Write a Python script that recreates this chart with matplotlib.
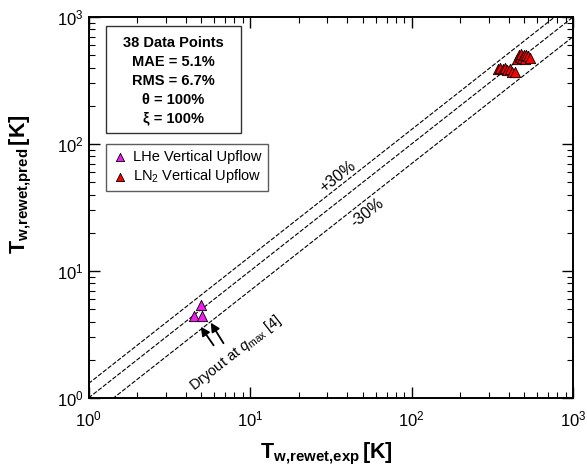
import matplotlib
matplotlib.use("Agg")
import matplotlib.pyplot as plt
from matplotlib.patches import Rectangle
import numpy as np

plt.rcParams['font.family'] = ['Liberation Sans', 'DejaVu Sans']
plt.rcParams['mathtext.fontset'] = 'custom'
plt.rcParams['mathtext.rm'] = 'Liberation Sans'
plt.rcParams['mathtext.bf'] = 'Liberation Sans:bold'
plt.rcParams['mathtext.it'] = 'Liberation Sans:italic'

# LHe vertical upflow: (experimental, predicted) rewet temperature [K]
lhe_exp = [4.5, 5.05, 4.95]
lhe_pred = [4.4, 4.4, 5.35]

# LN2 vertical upflow
ln2_exp = [345, 355, 368, 380, 392, 405, 420, 440,
           452, 462, 470, 478, 486, 494, 503, 512, 525, 540]
ln2_pred = [392, 398, 388, 396, 384, 390, 372, 368,
            470, 505, 488, 512, 478, 498, 470, 505, 492, 478]

# error bands
band_factors = [1.3, 1.0, 0.7]
band_labels = ['+30%', '-30%']
band_label_pos = [(35, 55), (53, 28.6)]

# dryout arrows: (tail, tip)
arrows = [((5.95, 2.6), (4.95, 3.64)), ((6.85, 2.7), (5.71, 3.92))]

stats_lines = ['38 Data Points', 'MAE = 5.1%', 'RMS = 6.7%',
               '\u03b8 = 100%', '\u03be = 100%']

fig = plt.figure(figsize=(5.87, 4.70), dpi=100)
ax = fig.add_axes([0.1508, 0.1532, 0.8254, 0.8106])

xs = np.array([1.0, 1000.0])
for f in band_factors:
    ax.plot(xs, f * xs, color='black', lw=0.8, ls=(0, (4, 1.5)), zorder=1)

ax.scatter(lhe_exp, lhe_pred, marker='^', s=55, c='#f01cf0',
           edgecolors='black', linewidths=0.6, zorder=3,
           label='LHe Vertical Upflow')
ax.scatter(ln2_exp, ln2_pred, marker='^', s=55, c='#ff0000',
           edgecolors='black', linewidths=0.6, zorder=3,
           label='LN$_2$ Vertical Upflow')

ax.set_xscale('log')
ax.set_yscale('log')
ax.set_xlim(1, 1000)
ax.set_ylim(1, 1000)

ax.tick_params(which='both', direction='in', top=True, right=True,
               labelsize=12)
ax.tick_params(which='major', length=8, width=1.0)
ax.tick_params(which='minor', length=4, width=0.8)
ax.tick_params(axis='x', pad=8)
for s in ax.spines.values():
    s.set_linewidth(1.4)

ax.set_xlabel(r'$\mathbf{T}_{\mathbf{w{,}rewet{,}exp}}\,\mathbf{[K]}$', fontsize=15.5)
ax.set_ylabel(r'$\mathbf{T}_{\mathbf{w{,}rewet{,}pred}}\,\mathbf{[K]}$', fontsize=15.5)
ax.xaxis.set_label_coords(0.492, -0.112)
ax.yaxis.set_label_coords(-0.112, 0.56)

# rotation that follows the 1:1 line on screen
fig.canvas.draw()
p0 = ax.transData.transform((1, 1))
p1 = ax.transData.transform((1000, 1000))
ang = np.degrees(np.arctan2(p1[1] - p0[1], p1[0] - p0[0]))

for lab, (lx, ly) in zip(band_labels, band_label_pos):
    ax.text(lx, ly, lab, rotation=ang, ha='center', va='center',
            fontsize=11.5, rotation_mode='anchor')

ax.text(8.2, 2.25, 'Dryout at $q_{\\mathrm{max}}$ [4]', rotation=ang,
        ha='center', va='center', fontsize=10.5, rotation_mode='anchor')
for tail, tip in arrows:
    ax.annotate('', xy=tip, xytext=tail,
                arrowprops=dict(arrowstyle='-|>', color='black', lw=1.3,
                                mutation_scale=13, shrinkA=0, shrinkB=0))

# stats box
ax.add_patch(Rectangle((0.0355, 0.695), 0.2785, 0.281, transform=ax.transAxes,
                       fill=False, edgecolor='#333333', lw=1.0, zorder=4))
ax.text(0.175, 0.833, '\n'.join(stats_lines), transform=ax.transAxes,
        ha='center', va='center', fontsize=10.5, fontweight='bold',
        linespacing=1.45, zorder=5)

leg = ax.legend(loc='upper left', bbox_to_anchor=(0.0355, 0.667),
                borderaxespad=0, fancybox=False, edgecolor='#333333',
                fontsize=10.5, handletextpad=0.3, handlelength=1.2,
                borderpad=0.4, labelspacing=0.25, scatterpoints=1,
                markerscale=0.8)
leg.get_frame().set_linewidth(1.0)

fig.savefig('out.png', dpi=100)
